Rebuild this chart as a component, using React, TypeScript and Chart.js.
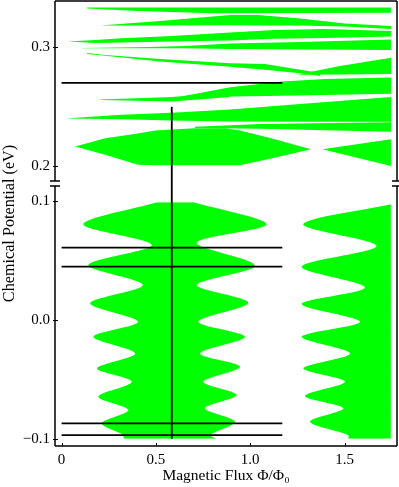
import React, { useEffect, useRef } from "react";
import { Chart, registerables } from "chart.js";

Chart.register(...registerables);

// ---- axis break (upper panel values are shifted down onto the same linear axis)
const BREAK_LOW = 0.1129; // top of lower panel (eV)
const BREAK_HIGH = 0.1874; // bottom of upper panel (eV)
const OFFSET = 0.0703;
const toD = (mu: number) => (mu > 0.15 ? mu - OFFSET : mu);

const X_MIN = -0.035;
const X_MAX = 1.778;
const MU_MIN = -0.1061;
const MU_MAX = 0.339;

const X_TICKS = [0, 0.5, 1.0, 1.5];
const X_TICK_LABELS = ["0", "0.5", "1.0", "1.5"];
const Y_TICKS = [-0.1, 0.0, 0.1, 0.2, 0.3];
const Y_TICK_LABELS = ["\u22120.1", "0.0", "0.1", "0.2", "0.3"];

// ---- upper panel bands (x, upper edge, lower edge) in eV
const T1_X = [0.135, 0.405, 0.8, 1.746];
const T1_HI = [0.3336, 0.3336, 0.3336, 0.3336];
const T1_LO = [0.3327, 0.3306, 0.3287, 0.3292];

const T2_X = [0.22, 0.522, 0.893, 1.041, 1.264, 1.502, 1.746];
const T2_HI = [0.3186, 0.3222, 0.3273, 0.3273, 0.3243, 0.3201, 0.318];
const T2_LO = [0.3184, 0.3184, 0.3186, 0.3183, 0.3183, 0.3176, 0.3155];

const T3_X = [0.034, 0.178, 0.319, 0.584, 0.893, 1.131, 1.396, 1.746];
const T3_HI = [0.3048, 0.3062, 0.3077, 0.3096, 0.3124, 0.3146, 0.3155, 0.3138];
const T3_LO = [0.3048, 0.3037, 0.3041, 0.3048, 0.3058, 0.3071, 0.3079, 0.3092];

const T4_X = [0.109, 0.469, 0.654, 0.893, 1.264, 1.746];
const T4_HI = [0.2995, 0.3003, 0.3012, 0.3033, 0.3045, 0.3066];
const T4_LO = [0.2992, 0.2991, 0.2991, 0.2986, 0.2982, 0.2978];

const T5_X = [0.135, 0.231, 0.522, 0.893, 1.078, 1.306, 1.37];
const T5_HI = [0.2953, 0.2936, 0.2902, 0.2866, 0.286, 0.2801, 0.2784];
const T5_LO = [0.2944, 0.2928, 0.2881, 0.2837, 0.281, 0.2776, 0.2759];

const T6_X = [0.654, 0.734, 0.893, 1.169, 1.396, 1.746];
const T6_HI = [0.2591, 0.2616, 0.2664, 0.2711, 0.2734, 0.2746];
const T6_LO = [0.2586, 0.2586, 0.2586, 0.2591, 0.2599, 0.2608];

const T7_X = [1.264, 1.476, 1.746];
const T7_HI = [0.2776, 0.2843, 0.2911];
const T7_LO = [0.2768, 0.2772, 0.2776];

const T8_X = [0.204, 0.586, 0.893];
const T8_HI = [0.2561, 0.2582, 0.2624];
const T8_LO = [0.2557, 0.2544, 0.2582];

const T9_X = [0.034, 0.319, 0.584, 0.893, 1.264, 1.746];
const T9_HI = [0.2403, 0.2431, 0.2448, 0.2477, 0.2523, 0.2582];
const T9_LO = [0.2401, 0.2393, 0.2384, 0.2376, 0.2372, 0.2372];

const T10_X = [0.707, 1.052, 1.746];
const T10_HI = [0.233, 0.2355, 0.2368];
const T10_LO = [0.2321, 0.2313, 0.2288];

const L1_X = [0.072, 0.231, 0.405, 0.495, 0.707, 0.866, 0.946, 1.105, 1.322];
const L1_HI = [0.2164, 0.2235, 0.2275, 0.2299, 0.2319, 0.2319, 0.23, 0.2237, 0.2142];
const L1_LO = [0.2164, 0.2094, 0.201, 0.2007, 0.2006, 0.2006, 0.2006, 0.2062, 0.2142];

const L2_X = [1.382, 1.746];
const L2_HI = [0.2142, 0.2226];
const L2_LO = [0.2142, 0.2001];

// ---- lower panel regions (edges given as flux vs. energy)
const CL_MU = [-0.1, -0.0969, -0.087, -0.0758, -0.0646, -0.052, -0.0407, -0.0281, -0.0141, -0.0014, 0.0141, 0.0295, 0.0463, 0.0632, 0.0806, 0.0992];
const CL_X = [0.328, 0.328, 0.213, 0.354, 0.195, 0.372, 0.187, 0.39, 0.168, 0.405, 0.151, 0.431, 0.142, 0.478, 0.115, 0.506];
const CR_MU = [-0.1, -0.0969, -0.0857, -0.0744, -0.0632, -0.052, -0.0393, -0.0281, -0.0141, -0.0014, 0.0146, 0.0295, 0.0458, 0.065, 0.0806, 0.0992];
const CR_X = [0.82, 0.787, 0.919, 0.76, 0.928, 0.751, 0.946, 0.734, 0.972, 0.725, 0.99, 0.716, 1.025, 0.716, 1.087, 0.699];
const RL_MU = [-0.1, -0.0969, -0.0857, -0.0744, -0.064, -0.052, -0.0407, -0.0281, -0.0141, -0.0014, 0.0135, 0.0275, 0.0449, 0.0623, 0.0806, 0.0975];
const RL_X = [1.52, 1.52, 1.317, 1.494, 1.29, 1.502, 1.281, 1.529, 1.273, 1.582, 1.273, 1.608, 1.273, 1.67, 1.281, 1.745];
const RR_MU = [-0.1, 0.0975];
const RR_X = [1.745, 1.745];

// ---- black guide lines
const H_LINES_MU = [0.27, 0.061, 0.045, -0.087, -0.097];
const H_LINE_X = [0, 1.17];
const V_LINE_X = 0.584;
const V_LINE_MU = [-0.1, 0.25];

const GREEN = "#00ff00";
const FONT = '"Liberation Serif", "Times New Roman", serif';

const BANDS = [
  [T1_X, T1_HI, T1_LO],
  [T2_X, T2_HI, T2_LO],
  [T3_X, T3_HI, T3_LO],
  [T4_X, T4_HI, T4_LO],
  [T5_X, T5_HI, T5_LO],
  [T6_X, T6_HI, T6_LO],
  [T7_X, T7_HI, T7_LO],
  [T8_X, T8_HI, T8_LO],
  [T9_X, T9_HI, T9_LO],
  [T10_X, T10_HI, T10_LO],
  [L1_X, L1_HI, L1_LO],
  [L2_X, L2_HI, L2_LO],
];

const REGIONS = [
  [CL_MU, CL_X, CR_MU, CR_X],
  [RL_MU, RL_X, RR_MU, RR_X],
];

function buildDatasets() {
  const ds: any[] = [];
  const edge = {
    borderColor: "rgba(0,0,0,0)",
    borderWidth: 0,
    pointRadius: 0,
    backgroundColor: GREEN,
    order: 2,
  };
  for (const [xs, hi, lo] of BANDS) {
    ds.push({ ...edge, fill: "+1", data: xs.map((x, i) => ({ x, y: toD(hi[i]) })) });
    ds.push({ ...edge, fill: false, data: xs.map((x, i) => ({ x, y: toD(lo[i]) })) });
  }
  for (const [muL, xL, muR, xR] of REGIONS) {
    ds.push({ ...edge, indexAxis: "y", tension: 0.3, fill: "+1", data: muL.map((mu, i) => ({ x: xL[i], y: toD(mu) })) });
    ds.push({ ...edge, indexAxis: "y", tension: 0.3, fill: false, data: muR.map((mu, i) => ({ x: xR[i], y: toD(mu) })) });
  }
  const lineStyle = {
    borderColor: "#000",
    borderWidth: 1.8,
    pointRadius: 0,
    fill: false,
    order: 0,
  };
  for (const mu of H_LINES_MU) {
    ds.push({ ...lineStyle, data: H_LINE_X.map((x) => ({ x, y: toD(mu) })) });
  }
  ds.push({ ...lineStyle, indexAxis: "y", data: V_LINE_MU.map((mu) => ({ x: V_LINE_X, y: toD(mu) })) });
  return ds;
}

const framePlugin = {
  id: "frame",
  afterDraw(chart: any) {
    const { ctx, chartArea: a, scales } = chart;
    const ys = scales.y;
    const xs = scales.x;
    const yb1 = ys.getPixelForValue(toD(BREAK_HIGH));
    const yb2 = ys.getPixelForValue(BREAK_LOW);
    ctx.save();
    ctx.strokeStyle = "#000";
    ctx.lineWidth = 1.5;
    ctx.beginPath();
    ctx.moveTo(a.left, a.top);
    ctx.lineTo(a.right, a.top);
    ctx.moveTo(a.left, a.bottom);
    ctx.lineTo(a.right, a.bottom);
    for (const xp of [a.left, a.right]) {
      ctx.moveTo(xp, a.top);
      ctx.lineTo(xp, yb1);
      ctx.moveTo(xp, yb2);
      ctx.lineTo(xp, a.bottom);
      ctx.moveTo(xp - 5, yb1);
      ctx.lineTo(xp + 5, yb1);
      ctx.moveTo(xp - 5, yb2);
      ctx.lineTo(xp + 5, yb2);
    }
    ctx.stroke();
    ctx.lineWidth = 1;
    ctx.beginPath();
    for (const v of Y_TICKS) {
      const p = Math.round(ys.getPixelForValue(toD(v))) + 0.5;
      ctx.moveTo(a.left - 2, p);
      ctx.lineTo(a.left + 3, p);
    }
    for (const v of X_TICKS) {
      const p = Math.round(xs.getPixelForValue(v)) + 0.5;
      ctx.moveTo(p, a.bottom);
      ctx.lineTo(p, a.bottom - 3);
    }
    ctx.stroke();
    ctx.restore();
  },
};

export default function App() {
  const ref = useRef<HTMLCanvasElement | null>(null);
  useEffect(() => {
    if (!ref.current) return;
    const chart = new Chart(ref.current, {
      type: "line",
      data: { datasets: buildDatasets() },
      options: {
        responsive: false,
        animation: false,
        layout: { padding: { top: 1, right: 2, left: 0, bottom: 0 } },
        plugins: { legend: { display: false }, tooltip: { enabled: false } },
        scales: {
          x: {
            type: "linear",
            min: X_MIN,
            max: X_MAX,
            afterBuildTicks: (s: any) => {
              s.ticks = X_TICKS.map((v) => ({ value: v }));
            },
            afterFit: (s: any) => {
              s.height = 41;
              s.paddingLeft = 0;
              s.paddingRight = 0;
            },
            grid: { display: false, drawTicks: false },
            border: { display: false },
            ticks: {
              autoSkip: false,
              maxRotation: 0,
              padding: 5,
              color: "#000",
              font: { family: FONT, size: 15 },
              callback: (_v: any, i: number) => X_TICK_LABELS[i],
            },
            title: {
              display: true,
              text: "Magnetic Flux \u03A6/\u03A6\u2080",
              color: "#000",
              font: { family: FONT, size: 15.5 },
              padding: { top: 0, bottom: 2 },
            },
          },
          y: {
            type: "linear",
            min: toD(MU_MIN),
            max: toD(MU_MAX),
            afterBuildTicks: (s: any) => {
              s.ticks = Y_TICKS.map((v) => ({ value: toD(v) }));
            },
            afterFit: (s: any) => {
              s.width = 55;
              s.paddingTop = 0;
              s.paddingBottom = 0;
            },
            grid: { display: false, drawTicks: false },
            border: { display: false },
            ticks: {
              autoSkip: false,
              padding: 5,
              color: "#000",
              font: { family: FONT, size: 15 },
              callback: (_v: any, i: number) => Y_TICK_LABELS[i],
            },
            title: {
              display: true,
              text: "Chemical Potential (eV)",
              color: "#000",
              font: { family: FONT, size: 16.2 },
              padding: { top: 0, bottom: 0 },
            },
          },
        },
      } as any,
      plugins: [framePlugin],
    });
    return () => chart.destroy();
  }, []);
  return (
    <div style={{ position: "absolute", left: 0, top: 0, width: 399, height: 487, background: "#fff" }}>
      <canvas ref={ref} width={399} height={487} style={{ display: "block" }} />
    </div>
  );
}
